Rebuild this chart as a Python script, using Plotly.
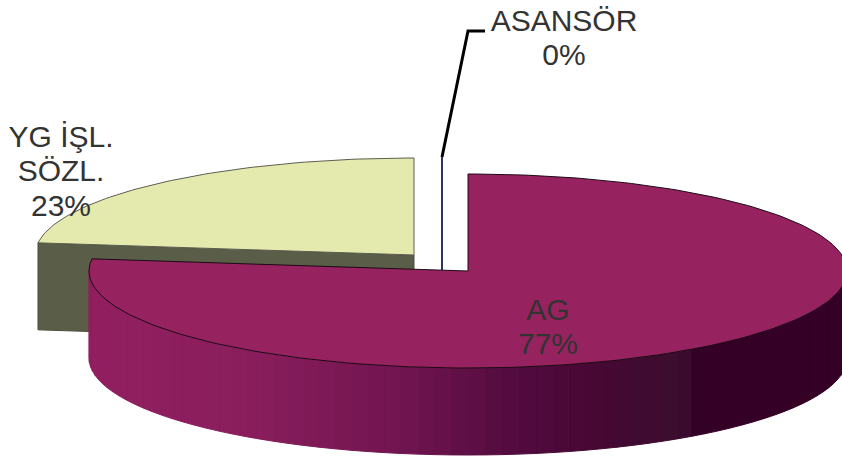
import numpy as np
import plotly.graph_objects as go

# Data
categories = ["AG", "YG İŞL. SÖZL.", "ASANSÖR"]
values = [77, 23, 0]
label_lines = [["AG"], ["YG İŞL.", "SÖZL."], ["ASANSÖR"]]

# Picture geometry / style
RX, RY, DEPTH = 379, 97, 87
centers = [(468, 271), (414, 255), (442, 270)]
top_colors = ["#96225f", "#e4e9ad", "#8080c0"]
wall_color = "#5a5e48"
label_anchor = [(548, 312), (61, 139), (564, 23)]
LINE_GAP = 34.5
side_x = [89, 250, 400, 520, 600, 680, 700, 850]
side_rgb = [(146, 32, 96), (138, 30, 93), (113, 21, 80), (82, 11, 62), (70, 8, 52), (60, 14, 46), (52, 0, 38), (52, 0, 38)]

total = sum(values)
angles = np.concatenate([[0], np.cumsum(values)]) / total * 2 * np.pi


def ell(cx, cy, t):
    return cx + RX * np.sin(t), cy - RY * np.cos(t)


fig = go.Figure()


def poly(x, y, fill, line=None, width=1):
    fig.add_trace(go.Scatter(x=list(x), y=list(y), mode="lines", fill="toself", fillcolor=fill,
                             line=dict(color=line or fill, width=width), hoverinfo="skip", showlegend=False))


# YG slice: wall and top surface
cx, cy = centers[1]
t = np.linspace(angles[1], angles[2], 80)
ex, ey = ell(cx, cy, t)
poly([ex[0], cx, cx, ex[0], ex[0]], [ey[0], cy, cy + DEPTH, ey[0] + DEPTH, ey[0]], wall_color, "#4a4d3a", 1)
poly(np.r_[cx, ex, cx], np.r_[cy, ey, cy], top_colors[1], "#5e5e50", 1)

# Zero-size slice: thin edge and leader line
zx, zy = centers[2]
ztop = ell(zx, zy, angles[3])
fig.add_trace(go.Scatter(x=[zx, ztop[0]], y=[zy, 157], mode="lines", line=dict(color="#2c3560", width=2),
                         hoverinfo="skip", showlegend=False))
fig.add_trace(go.Scatter(x=[ztop[0], 468, 485], y=[157, 31, 31], mode="lines", line=dict(color="#000000", width=3),
                         hoverinfo="skip", showlegend=False))

# AG slice: shaded outer side, then top surface
cx, cy = centers[0]
edges = np.linspace(np.pi / 2, 3 * np.pi / 2, 71)
for a, b in zip(edges[:-1], edges[1:]):
    tt = np.linspace(a, b, 4)
    sx, sy = ell(cx, cy, tt)
    xm = sx.mean()
    rgb = [np.interp(xm, side_x, [c[i] for c in side_rgb]) for i in range(3)]
    col = "rgb(%d,%d,%d)" % tuple(rgb)
    poly(np.r_[sx, sx[::-1], sx[0]], np.r_[sy, sy[::-1] + DEPTH, sy[0]], col)

t = np.linspace(angles[0], angles[1], 240)
ex, ey = ell(cx, cy, t)
poly(np.r_[cx, ex, cx], np.r_[cy, ey, cy], top_colors[0], "#1c0a16", 1)

# Labels
lx, ly, lt = [], [], []
for lines, val, (ax, ay) in zip(label_lines, values, label_anchor):
    rows = lines + [f"{round(val / total * 100)}%"]
    for i, r in enumerate(rows):
        lx.append(ax)
        ly.append(ay + i * LINE_GAP)
        lt.append(r)
fig.add_trace(go.Scatter(x=lx, y=ly, text=lt, mode="text", textposition="middle center",
                         textfont=dict(family="Liberation Sans", size=30, color="#333333"),
                         hoverinfo="skip", showlegend=False))

fig.update_layout(
    width=842, height=460, margin=dict(l=0, r=0, t=0, b=0),
    paper_bgcolor="white", plot_bgcolor="white", showlegend=False,
    xaxis=dict(range=[0, 842], visible=False, fixedrange=True),
    yaxis=dict(range=[460, 0], visible=False, fixedrange=True),
)
fig.write_html("out.html", config={"displayModeBar": False},
               post_script="document.body.style.margin='0';document.documentElement.style.overflow='hidden';")
